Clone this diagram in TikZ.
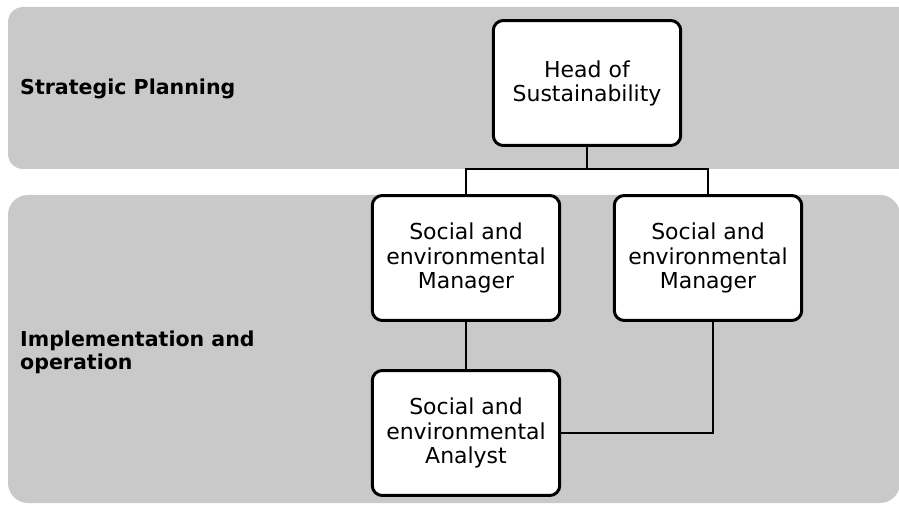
\documentclass[tikz,border=0pt]{standalone}
\usepackage{fontspec}
\setmainfont{DejaVu Sans}
\usetikzlibrary{positioning}

\definecolor{bandgray}{HTML}{C9C9C9}

\begin{document}
\begin{tikzpicture}[x=0.02cm,y=-0.02cm,font=\fontsize{12.5}{13.7}\selectfont,
    band/.style={fill=bandgray, rounded corners=0.3cm},
    post/.style={rectangle, draw=black, fill=white, line width=1.7pt, rounded corners=0.2cm,
                 minimum width=3.75cm, minimum height=2.5cm, align=center},
    level/.style={font=\fontsize{11.7}{13}\selectfont\bfseries, align=left, anchor=west},
    link/.style={line width=1.1pt}]

   %   \draw[help lines] (0, 0) grid (899, 506);
      \useasboundingbox (0,0) rectangle (899,506);
      \clip (0,0) rectangle (899,506);

      % grey levels
      \fill[band] (8,7) rectangle (930,169);
      \fill[band, rounded corners=0.4cm] (8,195) rectangle (900,503);

      \node [level] (strat) at (14, 89) {Strategic Planning};
      \node [level] (impl) at (14, 352) {Implementation and\\operation};

      % posts
      \node [post] (head) at (587, 83) {Head of\\Sustainability};
      \node [post] (mgrA) at (466, 258) {Social and\\environmental\\Manager};
      \node [post] (mgrB) at (708, 258) {Social and\\environmental\\Manager};
      \node [post] (analyst) at (466, 433) {Social and\\environmental\\Analyst};

      \coordinate (split) at (587, 169);

      \draw [link] (head) -- (split);
      \draw [link] (mgrA.north) |- (split) -| (mgrB.north);
      \draw [link] (mgrA) -- (analyst);
      \draw [link] ([xshift=0.1cm]mgrB.south) |- (analyst.east);

    \end{tikzpicture}
\end{document}
